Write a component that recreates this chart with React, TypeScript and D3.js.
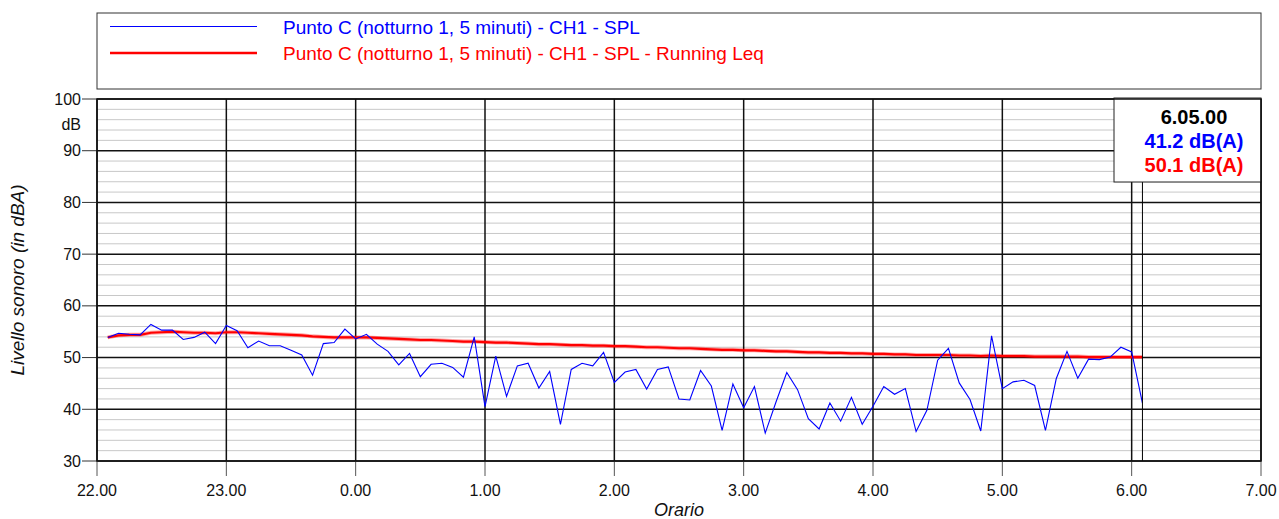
import React from 'react';
import * as d3 from 'd3';

// Punto C, night 1 - one SPL value every 5 minutes, from 22.05 to 6.05
const splValues = [
  53.9, 54.7, 54.5, 54.4, 56.4, 55.3, 55.3, 53.5, 53.9, 54.9, 52.7, 56.2,
  55.2, 51.9, 53.2, 52.3, 52.3, 51.4, 50.5, 46.6, 52.7, 52.9, 55.5, 53.6,
  54.5, 52.6, 51.2, 48.6, 50.8, 46.3, 48.7, 48.9, 48.1, 46.2, 54.0, 40.5,
  50.3, 42.5, 48.4, 48.9, 44.1, 47.3, 37.1, 47.7, 48.9, 48.4, 51.0, 45.2,
  47.2, 47.7, 43.9, 47.7, 48.2, 42.0, 41.8, 47.5, 44.5, 35.9, 44.9, 40.3,
  44.4, 35.4, 41.4, 47.1, 43.8, 38.2, 36.2, 41.2, 37.7, 42.3, 37.1, 40.6,
  44.4, 42.9, 44.0, 35.7, 39.8, 49.5, 51.8, 45.1, 41.9, 35.8, 54.2, 44.0,
  45.3, 45.6, 44.6, 35.9, 45.9, 51.2, 46.0, 49.7, 49.6, 50.1, 52.0, 51.1,
  41.2,
];

const runningLeq = [
  53.9, 54.3, 54.4, 54.4, 54.8, 54.9, 55.0, 54.9, 54.8, 54.8, 54.7, 54.9,
  54.9, 54.8, 54.7, 54.6, 54.5, 54.4, 54.3, 54.1, 54.0, 53.9, 53.9, 53.9,
  53.9, 53.8, 53.7, 53.6, 53.5, 53.4, 53.4, 53.3, 53.2, 53.1, 53.1, 53.0,
  52.9, 52.9, 52.8, 52.7, 52.6, 52.6, 52.5, 52.4, 52.4, 52.3, 52.3, 52.2,
  52.2, 52.1, 52.0, 52.0, 51.9, 51.8, 51.8, 51.7, 51.6, 51.5, 51.5, 51.4,
  51.4, 51.3, 51.2, 51.2, 51.1, 51.0, 51.0, 50.9, 50.9, 50.8, 50.8, 50.7,
  50.7, 50.6, 50.6, 50.5, 50.5, 50.5, 50.5, 50.4, 50.4, 50.3, 50.4, 50.3,
  50.3, 50.3, 50.2, 50.2, 50.2, 50.2, 50.2, 50.1, 50.1, 50.1, 50.1, 50.1,
  50.1,
];

const hourLabels = ['22.00', '23.00', '0.00', '1.00', '2.00', '3.00', '4.00', '5.00', '6.00', '7.00'];
const yTicks = [30, 40, 50, 60, 70, 80, 90, 100];
const seriesNames = [
  'Punto C (notturno 1, 5 minuti) - CH1 - SPL',
  'Punto C (notturno 1, 5 minuti) - CH1 - SPL - Running Leq',
];
const cursorTime = '6.05.00';
const cursorSpl = '41.2 dB(A)';
const cursorLeq = '50.1 dB(A)';

const firstMinute = 5; // minutes after 22.00 of the first sample
const stepMinutes = 5;

const width = 1279;
const height = 519;
const left = 97;
const right = 1261;
const top = 99;
const bottom = 461;
const font = '"Liberation Sans", Arial, sans-serif';

export default function App() {
  const x = d3.scaleLinear().domain([0, 9 * 60]).range([left, right]);
  const y = d3.scaleLinear().domain([30, 100]).range([bottom, top]);

  const minutes = splValues.map((_, i) => firstMinute + i * stepMinutes);
  const line = d3.line<number>()
    .x((_, i) => x(minutes[i]))
    .y(d => y(d));

  const minorTicks = d3.range(30, 101, 2).filter(v => v % 10 !== 0);
  const cursorX = x(minutes[minutes.length - 1]);

  return (
    <svg width={width} height={height} style={{ position: 'absolute', left: 0, top: 0, background: '#fff' }} fontFamily={font}>
      {/* legend */}
      <rect x={left} y={13} width={right - left} height={76} fill="#fff" stroke="#333" strokeWidth={1} />
      <line x1={110} x2={257} y1={26.5} y2={26.5} stroke="#0000ff" strokeWidth={1} />
      <line x1={110} x2={257} y1={53} y2={53} stroke="#ff0000" strokeWidth={2.5} />
      <text x={283} y={33.5} fontSize={19} fill="#0000ff">{seriesNames[0]}</text>
      <text x={283} y={60} fontSize={19} fill="#ff0000">{seriesNames[1]}</text>

      {/* minor grid */}
      {minorTicks.map(v => (
        <line key={'m' + v} x1={left} x2={right} y1={y(v)} y2={y(v)} stroke="#c8c8c8" strokeWidth={1} />
      ))}
      {/* major grid */}
      {yTicks.map(v => (
        <line key={'y' + v} x1={left} x2={right} y1={y(v)} y2={y(v)} stroke="#111" strokeWidth={1.5} />
      ))}
      {hourLabels.map((_, i) => (
        <line key={'x' + i} x1={x(i * 60)} x2={x(i * 60)} y1={top} y2={bottom} stroke="#111" strokeWidth={1.5} />
      ))}

      {/* y axis */}
      {yTicks.map(v => (
        <g key={'yt' + v}>
          <line x1={82} x2={left} y1={y(v)} y2={y(v)} stroke="#333" strokeWidth={1} />
          <text x={81} y={y(v) + 5.5} fontSize={16} textAnchor="end" fill="#111">{v}</text>
        </g>
      ))}
      <text x={81} y={y(95) + 5.5} fontSize={16} textAnchor="end" fill="#111">dB</text>
      <text transform={`translate(24,${(top + bottom) / 2}) rotate(-90)`} fontSize={19} fontStyle="italic" textAnchor="middle" fill="#111">
        Livello sonoro (in dBA)
      </text>

      {/* x axis */}
      {hourLabels.map((label, i) => (
        <g key={'xt' + i}>
          <line x1={x(i * 60)} x2={x(i * 60)} y1={bottom} y2={476} stroke="#555" strokeWidth={1} />
          <text x={x(i * 60)} y={496} fontSize={16} textAnchor="middle" fill="#111">{label}</text>
        </g>
      ))}
      <text x={(left + right) / 2} y={516} fontSize={18} fontStyle="italic" textAnchor="middle" fill="#111">Orario</text>

      {/* series */}
      <path d={line(runningLeq) ?? ''} fill="none" stroke="#ff0000" strokeOpacity={0.35} strokeWidth={4} />
      <path d={line(runningLeq) ?? ''} fill="none" stroke="#ff0000" strokeWidth={2.2} />
      <path d={line(splValues) ?? ''} fill="none" stroke="#0000ff" strokeWidth={1.1} />

      {/* cursor */}
      <line x1={cursorX} x2={cursorX} y1={182} y2={bottom} stroke="#000" strokeWidth={1} />
      <rect x={1114} y={98} width={147} height={84} fill="#fff" stroke="#222" strokeWidth={1} />
      <text x={1194} y={124} fontSize={20} fontWeight="bold" textAnchor="middle" fill="#000">{cursorTime}</text>
      <text x={1194} y={148} fontSize={20} fontWeight="bold" textAnchor="middle" fill="#0000ff">{cursorSpl}</text>
      <text x={1194} y={172} fontSize={20} fontWeight="bold" textAnchor="middle" fill="#ff0000">{cursorLeq}</text>

      {/* frame */}
      <rect x={left} y={top} width={right - left} height={bottom - top} fill="none" stroke="#111" strokeWidth={1.5} />
    </svg>
  );
}
